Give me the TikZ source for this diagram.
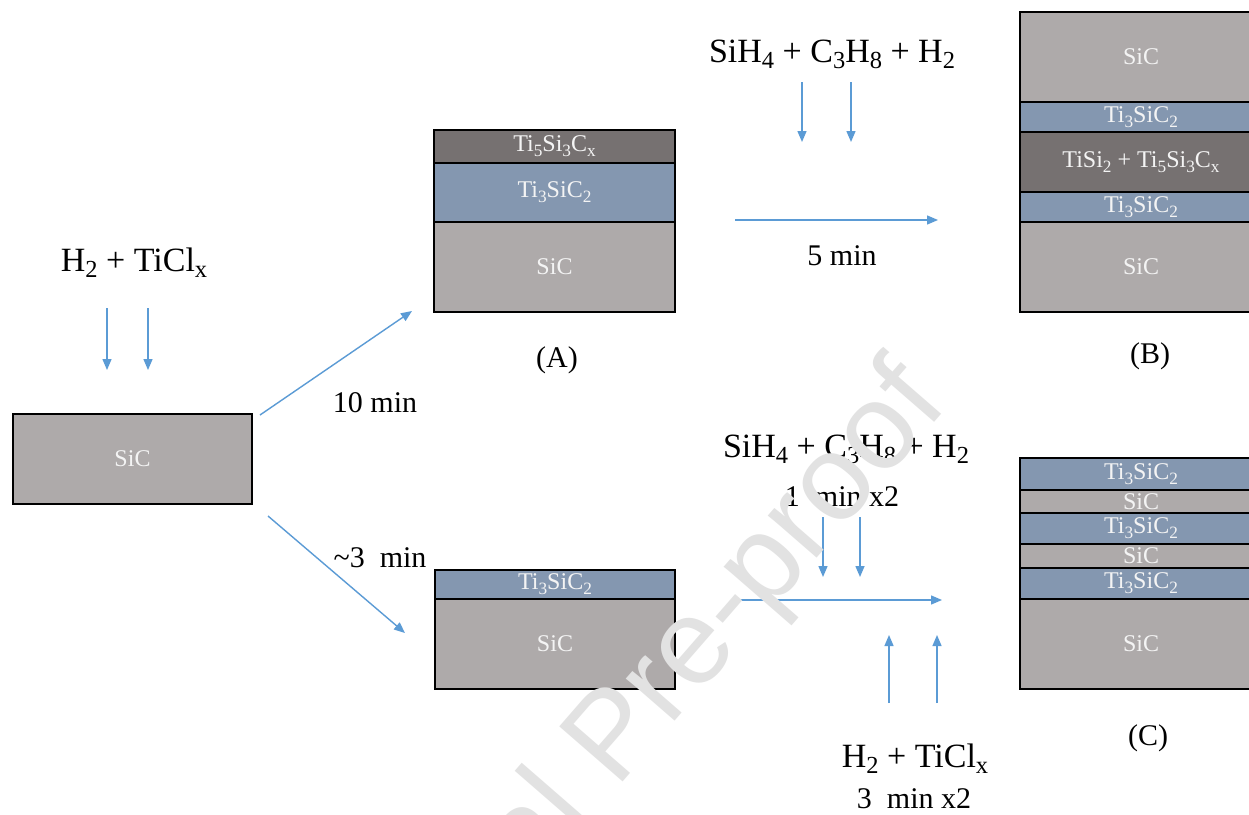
\documentclass[tikz,border=0pt]{standalone}
\usepackage{fontspec}
\setmainfont{Liberation Serif}
\newfontfamily\wmfont{Liberation Sans}
\usetikzlibrary{arrows.meta}
\definecolor{sicgray}{HTML}{AEAAAA}
\definecolor{tiblue}{HTML}{8497B0}
\definecolor{darkgr}{HTML}{767171}
\definecolor{arrblue}{HTML}{5B9BD5}
\definecolor{lbltxt}{HTML}{F4F4F4}
\definecolor{wmgray}{HTML}{E2E2E2}
\newcommand\sbs[1]{\raisebox{-0.2em}{\scalebox{0.72}{#1}}}
\newcommand\fchem{\fontsize{34}{40}\selectfont}
\newcommand\ftime{\fontsize{30}{36}\selectfont}
\newcommand\flayer{\fontsize{24}{28}\selectfont}
\tikzset{
  layer/.style={draw=black, line width=2.5pt, anchor=north west, inner sep=0pt, outer sep=0pt,
    text=lbltxt, font=\flayer},
  sic/.style={layer, fill=sicgray},
  tsc/.style={layer, fill=tiblue},
  drk/.style={layer, fill=darkgr},
  flow/.style={draw=arrblue, line width=1.4pt, -{Triangle[length=11pt,width=9pt]}},
  chem/.style={font=\fchem, anchor=base, inner sep=0pt},
  tlbl/.style={font=\ftime, anchor=base, inner sep=0pt},
}
\begin{document}
\begin{tikzpicture}[x=1pt,y=-1pt]
\useasboundingbox (0,0) rectangle (1249,814);
\fill[white] (0,0) rectangle (1249,814);

% left substrate
\node[sic, minimum width=239pt, minimum height=90pt] (s0) at (13,414) {SiC};

% box A
\node[drk, minimum width=241pt, minimum height=33pt] (a1) at (434,130) {Ti\sbs{5}Si\sbs{3}C\sbs{x}};
\node[tsc, minimum width=241pt, minimum height=59pt] (a2) at (434,163) {Ti\sbs{3}SiC\sbs{2}};
\node[sic, minimum width=241pt, minimum height=90pt] (a3) at (434,222) {SiC};

% box B
\node[sic, minimum width=242pt, minimum height=90pt] (b1) at (1020,12) {SiC};
\node[tsc, minimum width=242pt, minimum height=30pt] (b2) at (1020,102) {Ti\sbs{3}SiC\sbs{2}};
\node[drk, minimum width=242pt, minimum height=60pt] (b3) at (1020,132) {TiSi\sbs{2} + Ti\sbs{5}Si\sbs{3}C\sbs{x}};
\node[tsc, minimum width=242pt, minimum height=30pt] (b4) at (1020,192) {Ti\sbs{3}SiC\sbs{2}};
\node[sic, minimum width=242pt, minimum height=90pt] (b5) at (1020,222) {SiC};

% lower box
\node[tsc, minimum width=240pt, minimum height=29pt] (d1) at (435,570) {Ti\sbs{3}SiC\sbs{2}};
\node[sic, minimum width=240pt, minimum height=90pt] (d2) at (435,599) {SiC};

% box C
\node[tsc, minimum width=242pt, minimum height=32pt] (c1) at (1020,458) {Ti\sbs{3}SiC\sbs{2}};
\node[sic, minimum width=242pt, minimum height=23pt] (c2) at (1020,490) {SiC};
\node[tsc, minimum width=242pt, minimum height=31pt] (c3) at (1020,513) {Ti\sbs{3}SiC\sbs{2}};
\node[sic, minimum width=242pt, minimum height=24pt] (c4) at (1020,544) {SiC};
\node[tsc, minimum width=242pt, minimum height=31pt] (c5) at (1020,568) {Ti\sbs{3}SiC\sbs{2}};
\node[sic, minimum width=242pt, minimum height=90pt] (c6) at (1020,599) {SiC};

% labels
\node[chem] (g1) at (134,271) {H\sbs{2} + TiCl\sbs{x}};
\node[chem] (g2) at (832,62) {SiH\sbs{4} + C\sbs{3}H\sbs{8} + H\sbs{2}};
\node[chem] (g3) at (846,457) {SiH\sbs{4} + C\sbs{3}H\sbs{8} + H\sbs{2}};
\node[chem] (g4) at (915,767) {H\sbs{2} + TiCl\sbs{x}};
\node[tlbl] (t1) at (375,412) {10 min};
\node[tlbl] (t2) at (842,265) {5 min};
\node[tlbl] (t3) at (380,567) {\textasciitilde3\ \ min};
\node[tlbl] (t4) at (842,506) {1\ \ min x2};
\node[tlbl] (t5) at (914,808) {3\ \ min x2};
\node[tlbl] (la) at (557,367) {(A)};
\node[tlbl] (lb) at (1150,363) {(B)};
\node[tlbl] (lc) at (1148,745) {(C)};

% arrow end points
\coordinate (p1s) at (107,308); \coordinate (p1e) at (107,370);
\coordinate (p2s) at (148,308); \coordinate (p2e) at (148,370);
\coordinate (q1s) at (260,415); \coordinate (q1e) at (412,311);
\coordinate (q2s) at (268,516); \coordinate (q2e) at (405,633);
\coordinate (r1s) at (802,82); \coordinate (r1e) at (802,142);
\coordinate (r2s) at (851,82); \coordinate (r2e) at (851,142);
\coordinate (h1s) at (735,220); \coordinate (h1e) at (938,220);
\coordinate (u1s) at (823,517); \coordinate (u1e) at (823,577);
\coordinate (u2s) at (860,517); \coordinate (u2e) at (860,577);
\coordinate (h2s) at (738,600); \coordinate (h2e) at (942,600);
\coordinate (v1s) at (889,703); \coordinate (v1e) at (889,635);
\coordinate (v2s) at (937,703); \coordinate (v2e) at (937,635);

\draw[flow] (p1s) -- (p1e);
\draw[flow] (p2s) -- (p2e);
\draw[flow] (q1s) -- (q1e);
\draw[flow] (q2s) -- (q2e);
\draw[flow] (r1s) -- (r1e);
\draw[flow] (r2s) -- (r2e);
\draw[flow] (h1s) -- (h1e);
\draw[flow] (u1s) -- (u1e);
\draw[flow] (u2s) -- (u2e);
\draw[flow] (h2s) -- (h2e);
\draw[flow] (v1s) -- (v1e);
\draw[flow] (v2s) -- (v2e);

% watermark
\node[anchor=base east, rotate=49, inner sep=0pt, text=wmgray,
  font=\wmfont\fontsize{122}{122}\selectfont] (wm) at (950,405) {Journal Pre-proof};
\end{tikzpicture}
\end{document}
